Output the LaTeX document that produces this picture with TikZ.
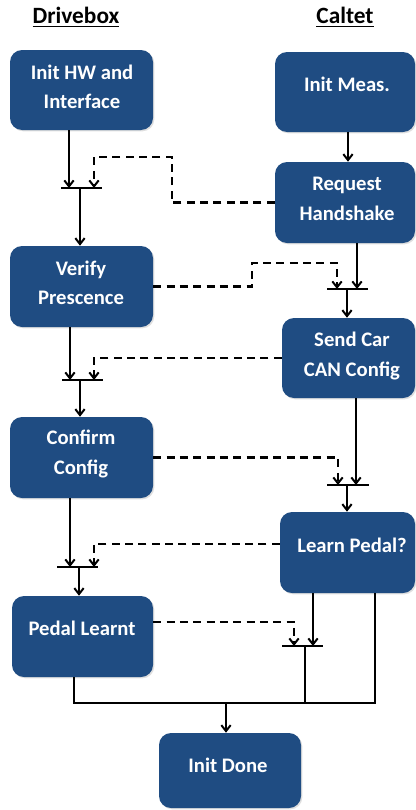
\documentclass[tikz,border=0pt]{standalone}
\usepackage{fontspec}
\setmainfont{Carlito}
\usetikzlibrary{arrows.meta,fit,shadows}
\definecolor{boxblue}{RGB}{31,76,130}
\tikzset{
  box/.style={draw=none, fill=boxblue, rounded corners=9pt, inner sep=0pt,
    drop shadow={opacity=0.25, shadow xshift=1pt, shadow yshift=-1pt}},
  btext/.style={text=white, font=\fontsize{15.5}{22}\selectfont\bfseries, align=center, inner sep=0pt},
  title/.style={text=black, font=\fontsize{17.5}{20}\selectfont\bfseries, inner sep=0pt},
  arr/.style={line width=1.8pt, -{Straight Barb[length=4.5pt,width=7pt,line width=1.5pt]}},
  darr/.style={arr, dash pattern=on 6pt off 4pt},
  bar/.style={line width=1.8pt},
  lin/.style={line width=1.8pt}
}
\begin{document}
\begin{tikzpicture}[x=0.75pt,y=-0.75pt]
\useasboundingbox (0,0) rectangle (416,810);
% titles
\node[title] (tdrive) at (76,17) {\underline{Drivebox}};
\node[title] (tcal) at (345,17) {\underline{Caltet}};
% boxes
\node[box, fit={(10,50) (153,130)}] (inithw) {};
\node[box, fit={(275,52) (415,132)}] (initmeas) {};
\node[box, fit={(275,162) (415,243)}] (reqhs) {};
\node[box, fit={(10,246) (153,327)}] (verify) {};
\node[box, fit={(282,318) (415,398)}] (sendcar) {};
\node[box, fit={(10,417) (153,498)}] (confirm) {};
\node[box, fit={(280,512) (415,593)}] (learn) {};
\node[box, fit={(12,596) (153,677)}] (pedal) {};
\node[box, fit={(159,733) (301,808)}] (done) {};
% texts
\node[btext] (t1) at (82,86.5) {Init HW and\\Interface};
\node[btext] (t2) at (347,84) {Init Meas.};
\node[btext] (t3) at (347,199) {Request\\Handshake};
\node[btext] (t4) at (81,282.5) {Verify\\Prescence};
\node[btext] (t5) at (352,356) {Send Car\\CAN Config};
\node[btext] (t6) at (81,454) {Confirm\\Config};
\node[btext] (t7) at (352,545) {Learn Pedal?};
\node[btext] (t8) at (82,628) {Pedal Learnt};
\node[btext] (t9) at (228,765) {Init Done};
% join bar 1
\coordinate (b1L) at (61,188); \coordinate (b1R) at (102,188);
\coordinate (b1a) at (69,188); \coordinate (b1d) at (94,188); \coordinate (b1c) at (80,188);
\draw[bar] (b1L) -- (b1R);
\draw[arr] (inithw.south -| b1a) -- (b1a);
\draw[darr] (reqhs.west) -| (172,157) -| (b1d);
\draw[arr] (b1c) -- (verify.north -| b1c);
% init meas -> request
\draw[arr] (initmeas.south -| 348,0) -- (reqhs.north -| 348,0);
% join bar 2
\coordinate (b2L) at (327,289); \coordinate (b2R) at (368,289);
\coordinate (b2a) at (357,289); \coordinate (b2d) at (337,289); \coordinate (b2c) at (347,289);
\draw[bar] (b2L) -- (b2R);
\draw[arr] (reqhs.south -| b2a) -- (b2a);
\draw[darr] (verify.east) -| (252,263) -| (b2d);
\draw[arr] (b2c) -- (sendcar.north -| b2c);
% join bar 3
\coordinate (b3L) at (62,380); \coordinate (b3R) at (103,380);
\coordinate (b3a) at (70,380); \coordinate (b3d) at (94,380); \coordinate (b3c) at (80,380);
\draw[bar] (b3L) -- (b3R);
\draw[arr] (verify.south -| b3a) -- (b3a);
\draw[darr] (sendcar.west) -| (b3d);
\draw[arr] (b3c) -- (confirm.north -| b3c);
% join bar 4
\coordinate (b4L) at (327,485); \coordinate (b4R) at (369,485);
\coordinate (b4a) at (356,485); \coordinate (b4d) at (338,485); \coordinate (b4c) at (347,485);
\draw[bar] (b4L) -- (b4R);
\draw[arr] (sendcar.south -| b4a) -- (b4a);
\draw[darr] (confirm.east) -| (b4d);
\draw[arr] (b4c) -- (learn.north -| b4c);
% join bar 5
\coordinate (b5L) at (57,567); \coordinate (b5R) at (98,567);
\coordinate (b5a) at (70,567); \coordinate (b5d) at (94,567); \coordinate (b5c) at (79,567);
\coordinate (b5y) at (0,544);
\draw[bar] (b5L) -- (b5R);
\draw[arr] (confirm.south -| b5a) -- (b5a);
\draw[darr] (learn.west |- b5y) -| (b5d);
\draw[arr] (b5c) -- (pedal.north -| b5c);
% join bar 6
\coordinate (b6L) at (282,646); \coordinate (b6R) at (323,646);
\coordinate (b6a) at (313,646); \coordinate (b6d) at (294,646); \coordinate (b6c) at (305,646);
\coordinate (b6y) at (0,622);
\draw[bar] (b6L) -- (b6R);
\draw[arr] (learn.south -| b6a) -- (b6a);
\draw[darr] (pedal.east |- b6y) -| (b6d);
% final join
\coordinate (jL) at (74,703); \coordinate (jR) at (375,703);
\coordinate (jM) at (305,703); \coordinate (jC) at (226,703);
\draw[lin] (b6c) -- (jM);
\draw[lin] (pedal.south -| jL) -- (jL) -- (jR) -- (learn.south -| jR);
\draw[arr] (jC) -- (done.north -| jC);
\end{tikzpicture}
\end{document}
